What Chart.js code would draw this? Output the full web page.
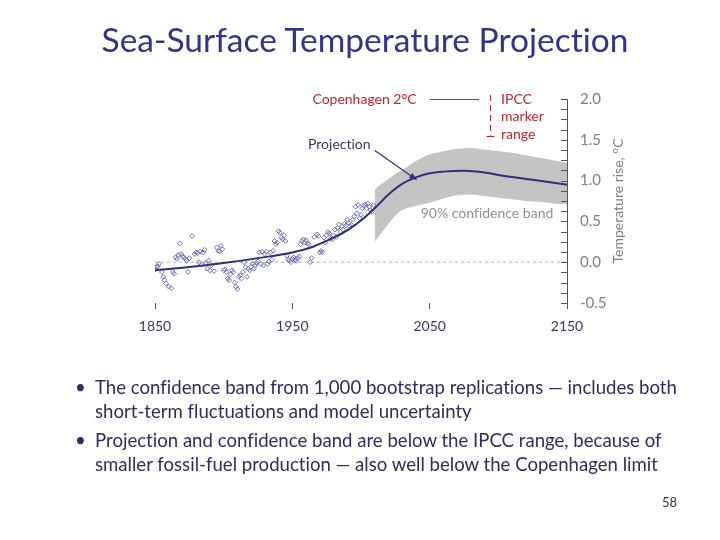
<!DOCTYPE html>
<html>
<head>
<meta charset="utf-8">
<title>Sea-Surface Temperature Projection</title>
<script src="https://cdn.jsdelivr.net/npm/chart.js@4.4.1/dist/chart.umd.min.js"></script>
<style>
  body { margin: 0; background: #fff; }
  #page { position: relative; width: 720px; height: 540px; overflow: hidden; font-family: Lato, "Open Sans", sans-serif; font-variant-ligatures: none; }
  #chart { position: absolute; left: 0; top: 0; }
  h1 { position: absolute; left: 0; width: 730px; top: 20px; margin: 0; text-align: center; font-weight: normal; font-size: 33.5px; line-height: 38px; color: #33338a; }
  ul { position: absolute; left: 75px; top: 375px; margin: 0; padding: 0; list-style: none; font-size: 18.6px; line-height: 24px; color: #2d2d5f; white-space: nowrap; }
  li { position: relative; padding-left: 20px; margin-bottom: 5px; }
  li:before { content: "\2022"; position: absolute; left: 0; }
  #num { position: absolute; left: 662px; top: 494px; font-size: 13px; color: #333; }
</style>
</head>
<body>
<div id="page">
  <canvas id="chart" width="720" height="540"></canvas>
  <h1>Sea-Surface Temperature Projection</h1>
  <ul>
    <li>The confidence band from 1,000 bootstrap replications — includes both<br>short-term fluctuations and model uncertainty</li>
    <li>Projection and confidence band are below the IPCC range, because of<br>smaller fossil-fuel production — also well below the Copenhagen limit</li>
  </ul>
  <div id="num">58</div>
</div>
<script>
// observed sea-surface temperature anomalies
var obsYears = [1850, 1851, 1852, 1853, 1855, 1856, 1857, 1858, 1860, 1862, 1863, 1864, 1865, 1866, 1867, 1868, 1869, 1870, 1871, 1872, 1873, 1874, 1875, 1877, 1879,
    1880, 1881, 1882, 1883, 1884, 1885, 1886, 1887, 1888, 1889, 1890, 1891, 1893, 1895, 1896, 1897, 1898, 1899,
    1900, 1901, 1902, 1903, 1904, 1905, 1906, 1907, 1908, 1909, 1910, 1911, 1912, 1913, 1914, 1915, 1916, 1917, 1918, 1919,
    1920, 1921, 1922, 1923, 1924, 1925, 1926, 1927, 1928, 1929, 1930, 1931, 1932, 1933, 1934, 1935, 1936, 1937, 1938, 1939,
    1940, 1941, 1942, 1943, 1944, 1945, 1946, 1947, 1948, 1949, 1950, 1951, 1952, 1953, 1954, 1955, 1956, 1957, 1958, 1959,
    1960, 1961, 1962, 1963, 1964, 1966, 1968, 1969, 1970, 1971, 1972, 1973, 1974, 1975, 1976, 1977, 1978, 1979,
    1980, 1981, 1982, 1983, 1984, 1985, 1986, 1987, 1988, 1989, 1990, 1991, 1992, 1993, 1994, 1995, 1996, 1997, 1998, 1999,
    2000, 2001, 2002, 2003, 2004, 2005, 2006, 2007, 2008, 2009];
var obsTemps = [-0.09, -0.06, -0.05, -0.02, -0.12, -0.18, -0.22, -0.26, -0.30, -0.32, -0.12, -0.14, 0.06, 0.04, 0.09, 0.23, 0.10, 0.07, 0.06, 0.04, 0.02, -0.12, 0.05, 0.32, 0.10,
    0.12, 0.11, 0.00, 0.13, -0.03, 0.12, 0.15, -0.01, -0.08, 0.02, -0.10, -0.04, -0.11, 0.18, 0.14, 0.13, 0.20, 0.16,
    -0.10, -0.09, -0.12, -0.20, -0.22, -0.15, -0.10, -0.12, -0.25, -0.30, -0.33, -0.18, -0.16, -0.20, -0.12, 0.00, -0.06, -0.18, -0.08, -0.10,
    -0.05, -0.02, -0.08, -0.04, -0.01, 0.01, 0.12, -0.02, 0.13, -0.04, 0.10, 0.13, -0.02, 0.01, 0.12, 0.03, 0.14, 0.26, 0.22, 0.24,
    0.38, 0.36, 0.30, 0.28, 0.33, 0.26, 0.08, 0.03, 0.02, 0.00, 0.04, 0.06, 0.03, 0.02, 0.05, 0.07, 0.22, 0.26, 0.28, 0.24,
    0.27, 0.23, 0.22, 0.00, 0.05, 0.31, 0.34, 0.32, 0.12, 0.14, 0.12, 0.30, 0.24, 0.33, 0.37, 0.35, 0.29, 0.28,
    0.33, 0.40, 0.31, 0.42, 0.46, 0.37, 0.44, 0.40, 0.47, 0.45, 0.52, 0.48, 0.44, 0.46, 0.52, 0.56, 0.68, 0.60, 0.70, 0.54,
    0.58, 0.66, 0.69, 0.71, 0.66, 0.72, 0.68, 0.64, 0.62, 0.70];

// fitted projection
var projYears = [1850, 1875, 1900, 1925, 1950, 1965, 1980, 1990, 2000, 2010, 2020, 2030, 2040, 2050, 2060, 2075, 2090, 2100, 2125, 2150];
var projTemps = [-0.10, -0.06, -0.01, 0.05, 0.12, 0.19, 0.30, 0.39, 0.51, 0.66, 0.83, 0.96, 1.04, 1.09, 1.11, 1.12, 1.10, 1.07, 1.01, 0.95];

// 90% confidence band
var bandYears = [2010, 2015, 2020, 2025, 2030, 2040, 2050, 2060, 2070, 2080, 2090, 2100, 2110, 2120, 2130, 2140, 2150];
var bandUpper = [0.89, 0.96, 1.02, 1.08, 1.13, 1.24, 1.32, 1.36, 1.39, 1.40, 1.38, 1.36, 1.34, 1.31, 1.28, 1.25, 1.22];
var bandLower = [0.25, 0.36, 0.47, 0.57, 0.64, 0.69, 0.73, 0.78, 0.82, 0.83, 0.81, 0.79, 0.77, 0.75, 0.74, 0.72, 0.71];

var xTicks = [1850, 1950, 2050, 2150];
var yTickLabels = [-0.5, 0.0, 0.5, 1.0, 1.5, 2.0];

var copenhagen = 2.0;
var ipccRange = [1.55, 2.05];

function pts(xs, ys) {
    return xs.map(function (x, i) { return { x: x, y: ys[i] }; });
}

var navy = "#2f2f7a";
var red = "#c0262d";

// extra drawing: inward y ticks, axis title, annotations
var extras = {
    id: "extras",
    afterDraw: function (chart) {
        var ctx = chart.ctx;
        var xs = chart.scales.x;
        var ys = chart.scales.y;
        var X = function (v) { return xs.getPixelForValue(v); };
        var Y = function (v) { return ys.getPixelForValue(v); };
        var axisX = chart.chartArea.right;
        ctx.save();

        // y tick marks pointing into the plot
        ctx.strokeStyle = "#555";
        ctx.lineWidth = 1;
        ys.ticks.forEach(function (t) {
            var py = Math.round(Y(t.value)) + 0.5;
            ctx.beginPath();
            ctx.moveTo(axisX - 6, py);
            ctx.lineTo(axisX, py);
            ctx.stroke();
        });

        // y axis title, reading upwards
        ctx.save();
        ctx.translate(618, (chart.chartArea.top + chart.chartArea.bottom) / 2);
        ctx.rotate(-Math.PI / 2);
        ctx.fillStyle = "#808080";
        ctx.font = "14px Lato";
        ctx.textAlign = "center";
        ctx.textBaseline = "middle";
        ctx.fillText("Temperature rise, \u00B0C", 0, 0);
        ctx.restore();

        // Copenhagen limit
        ctx.font = "14px Lato";
        ctx.fillStyle = red;
        ctx.textAlign = "right";
        ctx.textBaseline = "middle";
        ctx.fillText("Copenhagen 2\u00B0C", X(2040.5), Y(copenhagen));
        ctx.strokeStyle = red;
        ctx.beginPath();
        ctx.moveTo(X(2050), Math.round(Y(copenhagen)) + 0.5);
        ctx.lineTo(X(2086), Math.round(Y(copenhagen)) + 0.5);
        ctx.stroke();

        // IPCC marker range
        var ix = Math.round(X(2094)) + 0.5;
        ctx.setLineDash([6, 4]);
        ctx.beginPath();
        ctx.moveTo(ix, Y(ipccRange[1]));
        ctx.lineTo(ix, Y(ipccRange[0]));
        ctx.stroke();
        ctx.setLineDash([]);
        ctx.beginPath();
        ctx.moveTo(ix - 4, Math.round(Y(ipccRange[0])) + 0.5);
        ctx.lineTo(ix + 4, Math.round(Y(ipccRange[0])) + 0.5);
        ctx.stroke();
        ctx.textAlign = "left";
        ctx.fillText("IPCC", X(2102), Y(2.0));
        ctx.fillText("marker", X(2102), Y(1.78));
        ctx.fillText("range", X(2102), Y(1.56));

        // projection label with arrow
        ctx.fillStyle = "#3a3a5a";
        ctx.textAlign = "right";
        ctx.fillText("Projection", X(2007), Y(1.44));
        var x0 = X(2010), y0 = Y(1.37), x1 = X(2040.5), y1 = Y(1.01);
        ctx.strokeStyle = navy;
        ctx.fillStyle = navy;
        ctx.lineWidth = 1.2;
        ctx.beginPath();
        ctx.moveTo(x0, y0);
        ctx.lineTo(x1, y1);
        ctx.stroke();
        var a = Math.atan2(y1 - y0, x1 - x0);
        ctx.beginPath();
        ctx.moveTo(x1, y1);
        ctx.lineTo(x1 - 8 * Math.cos(a - 0.4), y1 - 8 * Math.sin(a - 0.4));
        ctx.lineTo(x1 - 8 * Math.cos(a + 0.4), y1 - 8 * Math.sin(a + 0.4));
        ctx.closePath();
        ctx.fill();

        // band label
        ctx.fillStyle = "#8f8f8f";
        ctx.textAlign = "left";
        ctx.fillText("90% confidence band", X(2043.5), Y(0.6));
        ctx.restore();
    }
};

Chart.defaults.font.family = "Lato";

new Chart(document.getElementById("chart"), {
    type: "line",
    data: {
        datasets: [
            {
                label: "Projection",
                data: pts(projYears, projTemps),
                borderColor: navy,
                borderWidth: 2,
                pointRadius: 0,
                cubicInterpolationMode: "monotone",
                fill: false,
            },
            {
                label: "Observed",
                type: "scatter",
                data: pts(obsYears, obsTemps),
                pointStyle: "rectRot",
                pointRadius: 2.4,
                borderWidth: 1,
                borderColor: "#6d6db0",
                backgroundColor: "rgba(255,255,255,0)",
            },
            {
                label: "Upper",
                data: pts(bandYears, bandUpper),
                borderWidth: 0,
                pointRadius: 0,
                cubicInterpolationMode: "monotone",
                backgroundColor: "#c4c4c4",
                fill: "+1",
            },
            {
                label: "Lower",
                data: pts(bandYears, bandLower),
                borderWidth: 0,
                pointRadius: 0,
                cubicInterpolationMode: "monotone",
                fill: false,
            },
            {
                label: "Zero",
                data: pts([1850, 2150], [0, 0]),
                borderColor: "#b5b5b5",
                borderWidth: 1,
                borderDash: [3, 3],
                pointRadius: 0,
                fill: false,
            },
        ],
    },
    options: {
        responsive: false,
        animation: false,
        layout: {
            padding: { left: 155, right: 93, top: 99, bottom: 197 },
        },
        plugins: {
            legend: { display: false },
            tooltip: { enabled: false },
        },
        scales: {
            x: {
                type: "linear",
                min: 1850,
                max: 2150,
                afterBuildTicks: function (scale) {
                    scale.ticks = xTicks.map(function (v) { return { value: v }; });
                },
                afterFit: function (scale) { scale.height = 40; },
                ticks: {
                    color: "#3a3a5a",
                    font: { size: 14 },
                    padding: 9,
                    maxRotation: 0,
                    callback: function (v) { return String(v); },
                },
                grid: {
                    drawOnChartArea: false,
                    tickLength: 6,
                    color: "#555",
                },
                border: { display: false },
            },
            y: {
                position: "right",
                min: -0.5,
                max: 2.0,
                afterFit: function (scale) { scale.width = 60; },
                ticks: {
                    stepSize: 0.125,
                    autoSkip: false,
                    color: "#808080",
                    font: { size: 15 },
                    padding: 13,
                    callback: function (v) {
                        return yTickLabels.indexOf(v) >= 0 ? v.toFixed(1) : "";
                    },
                },
                grid: { drawOnChartArea: false, drawTicks: false },
                border: { display: true, color: "#555", width: 1 },
            },
        },
    },
    plugins: [extras],
});
</script>
</body>
</html>
